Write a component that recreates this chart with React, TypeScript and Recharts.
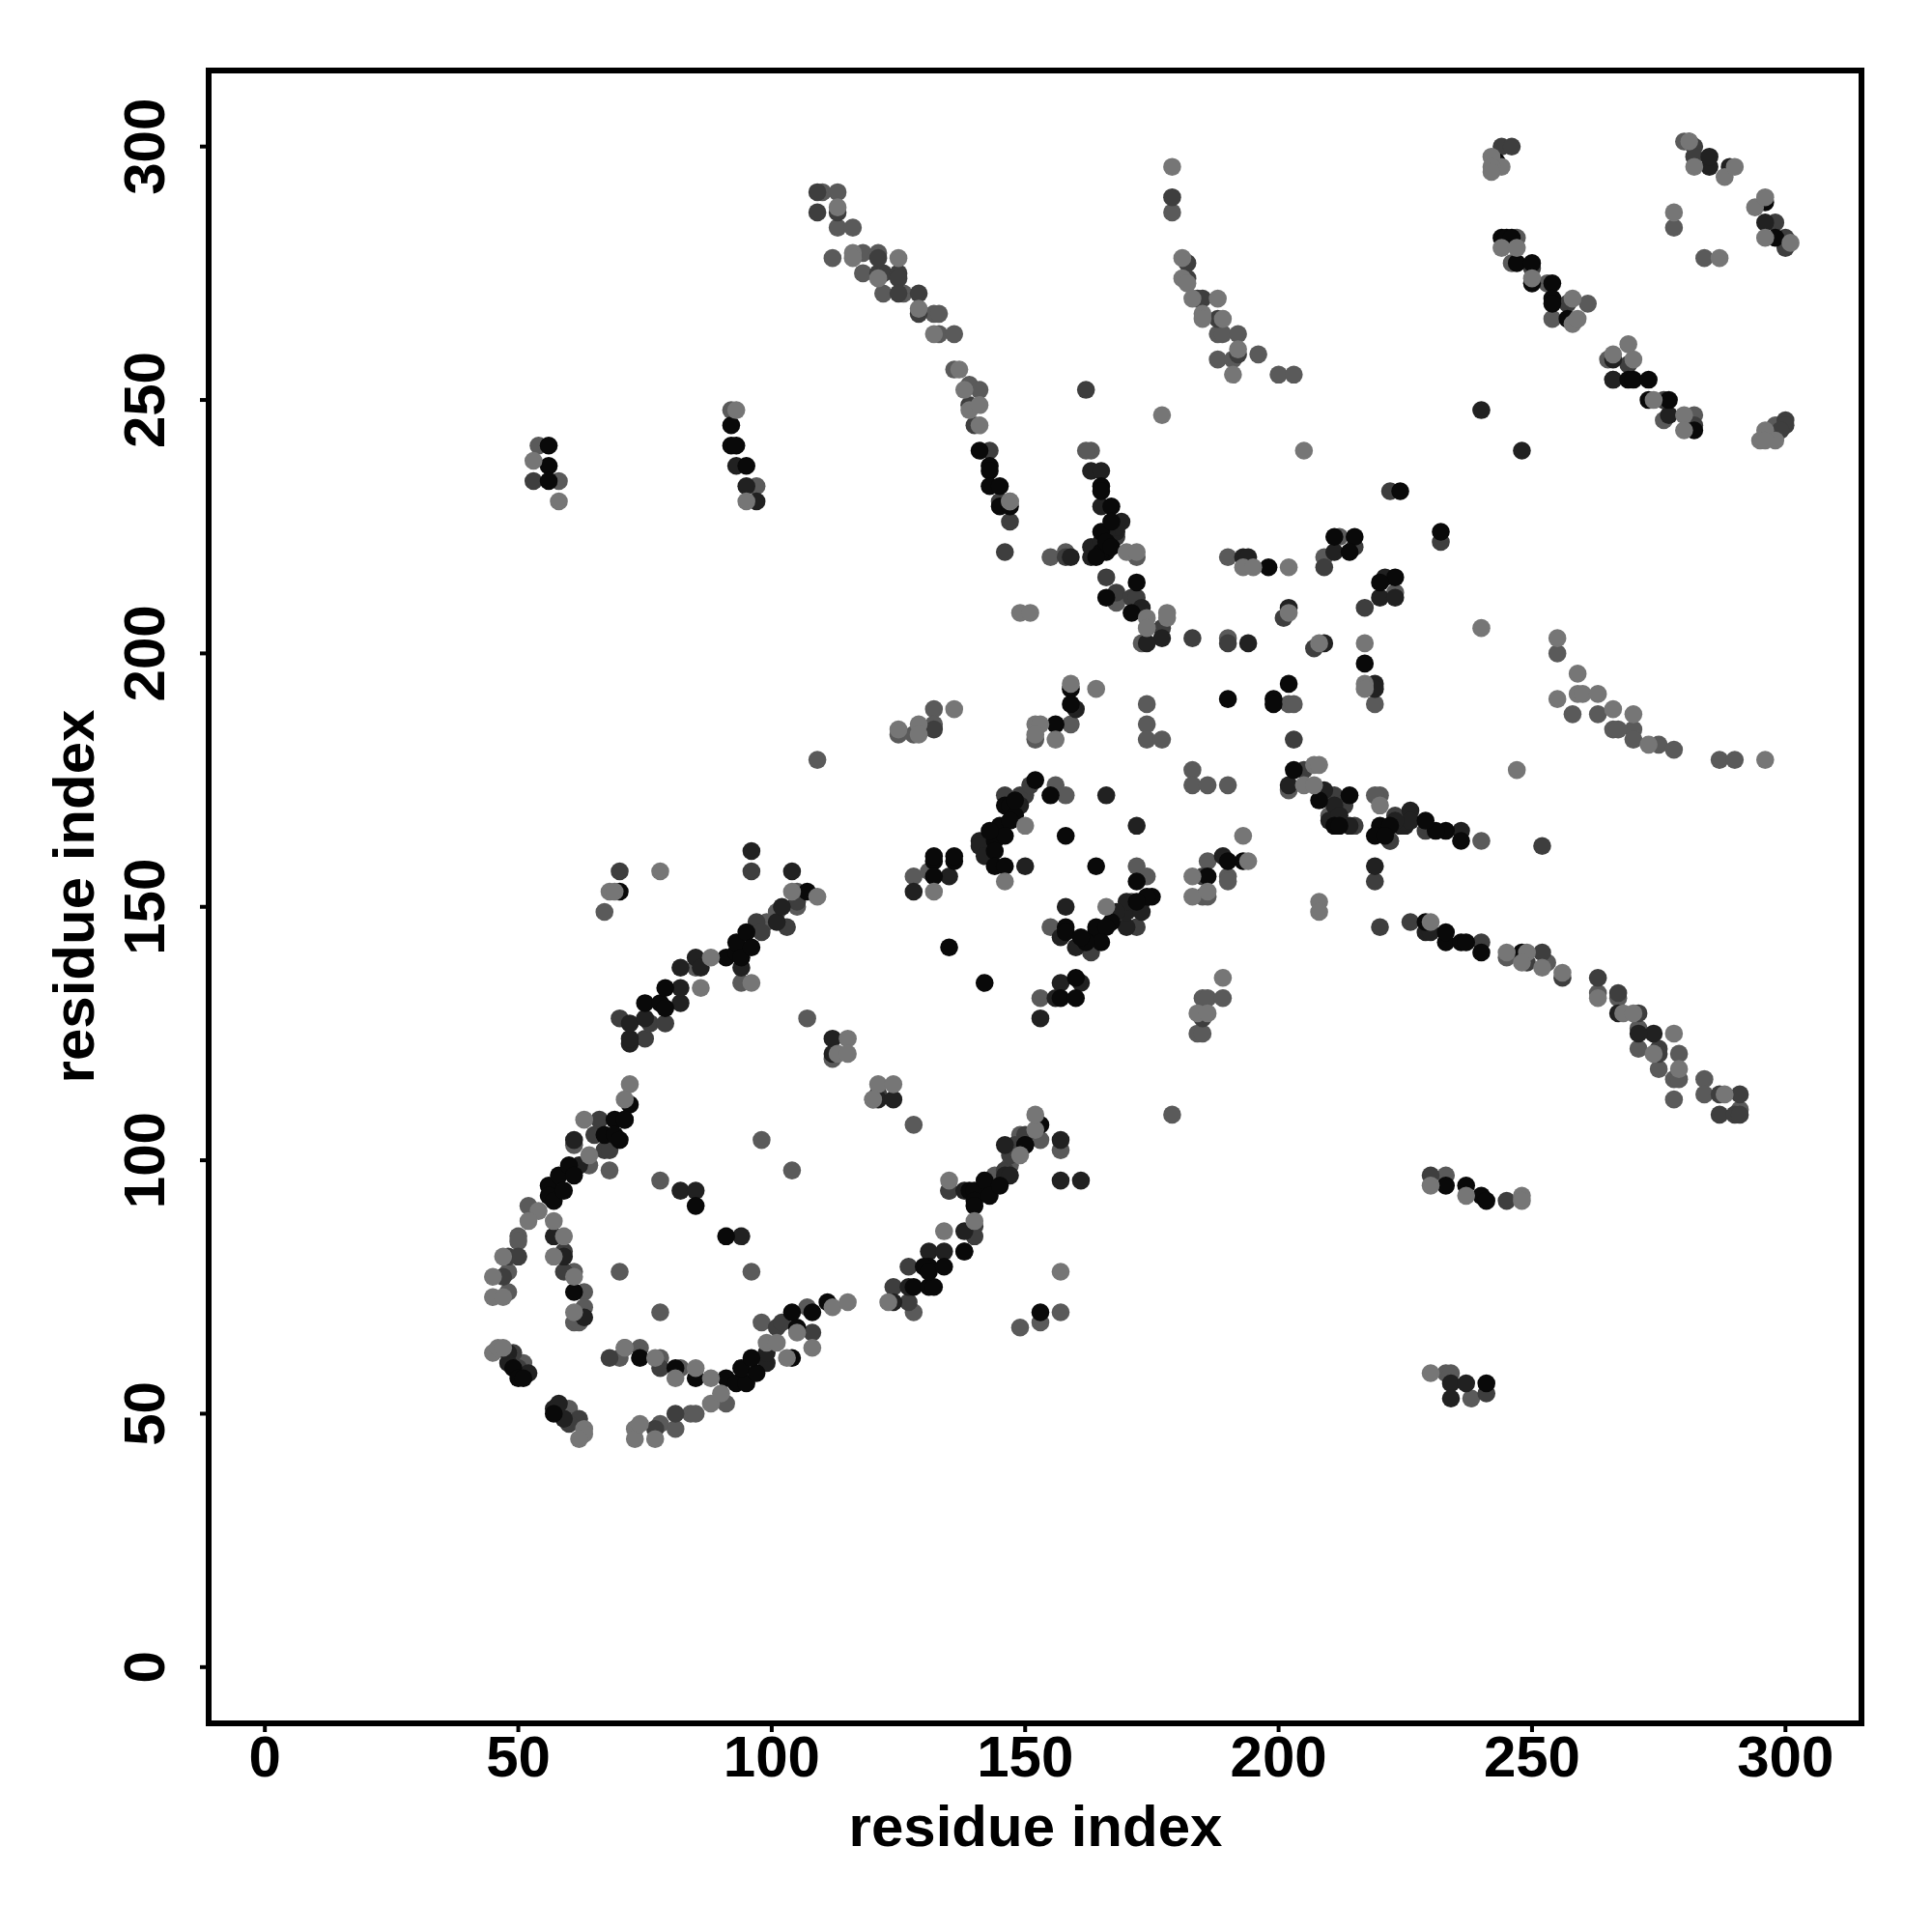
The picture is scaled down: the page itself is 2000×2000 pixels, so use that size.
import { ScatterChart, Scatter, XAxis, YAxis } from "recharts";

type Pair = [number, number];

const tickValues = [0, 50, 100, 150, 200, 250, 300];
const axisTitle = "residue index";

// contacts grouped by how dark the dot is as [i, j]
const darkest: Pair[] = [
  [56,95],[56,93],[57,92],[58,97],[59,94],[60,99],[61,97],[67,105],[69,108],[69,105],[85,91],[91,85],[49,59],[50,57],[51,57],[57,50],
  [74,61],[81,59],[85,57],[91,57],[93,56],[95,56],[94,59],[97,58],[96,61],[104,70],[105,67],[108,70],[111,72],[104,61],[128,75],[131,75],[132,75],
  [131,79],[130,79],[131,78],[134,79],[138,82],[139,94],[140,94],[140,92],[140,91],[142,96],[143,93],[145,95],[150,103],[153,107],[153,70],[61,74],[70,153],[75,131],[78,131],[79,130],[79,134],[91,140],[93,141],[93,143],[94,140],
  [95,145],[96,142],[107,153],[72,111],[71,108],[70,104],[135,142],[142,135],[132,159],[136,159],[132,160],[136,160],[132,156],[159,193],
  [159,190],[156,186],[199,191],[199,190],[203,177],[208,171],[211,166],[212,166],[214,172],[152,175],[146,170],[147,170],[148,168],[148,171],[145,166],[144,163],[155,172],[158,164],[147,167],
  [146,164],[143,165],[144,161],[144,158],[146,158],[164,158],[172,155],[175,152],[174,152],[172,151],[167,147],[158,146],[158,145],[164,145],[164,146],[166,146],[165,143],[162,143],[161,144],
  [160,136],[157,132],[160,132],[186,156],[190,159],[193,159],[141,240],[143,237],[143,236],[143,233],[145,233],[145,229],[147,229],[165,233],
  [165,232],[167,229],[165,224],[166,220],[165,220],[166,222],[167,221],[167,226],[164,219],[172,214],[166,211],[171,208],[190,191],[198,217],[211,223],[215,223],[214,220],[224,232],
  [232,224],[223,215],[220,214],[217,198],[220,166],[219,164],[222,166],[221,164],[236,163],[233,165],[231,165],[229,167],[233,143],[233,145],
  [236,143],[237,143],[240,141],[229,147],[248,141],[244,282],[245,282],[246,282],[247,277],[250,277],[250,273],[254,273],[254,270],[254,269],[257,266],[269,254],
  [270,254],[273,254],[273,250],[277,250],[282,244],[296,289],[298,282],[56,241],[56,237],[56,234],[92,245],[92,241],[93,241],[95,237],
  [241,56],[233,95],[237,95],[240,93],[241,92],[202,194],[243,297],
];

const nearBlack: Pair[] = [
  [62,99],[61,104],[82,94],[85,94],[94,85],[48,62],[48,60],[52,58],[57,51],[58,52],[59,49],[57,85],[59,81],[63,69],[71,108],[99,60],[99,62],
  [127,75],[131,82],[134,82],[124,72],[138,86],[138,94],[142,94],[146,97],[146,103],[147,97],[150,103],[157,104],[157,96],[161,96],[72,123],[72,124],[72,127],
  [75,128],[82,131],[82,134],[82,138],[85,140],[86,138],[94,138],[96,161],[104,157],[101,147],[102,150],[112,124],[112,121],[121,112],[124,112],
  [128,153],[135,156],[160,189],[202,174],[209,173],[211,170],[211,167],[210,167],[212,168],[214,166],[166,172],[172,166],[141,163],[141,162],[142,160],[149,170],[150,158],
  [173,151],[170,146],[170,149],[170,151],[173,149],[168,149],[160,142],[157,144],[158,150],[157,135],[161,135],[156,132],[153,128],[189,160],[159,219],[163,219],[163,236],
  [165,236],[165,229],[168,224],[168,225],[166,224],[169,226],[163,221],[165,222],[173,209],[177,203],[174,202],[194,202],[202,209],[209,202],[219,194],[219,193],
  [193,219],[194,219],[211,220],[221,215],[220,211],[223,211],[236,165],[226,169],[224,166],[225,166],[226,167],[223,167],[219,158],[229,145],[230,145],[274,125],
  [267,129],[271,125],[285,296],[289,296],[296,285],[266,258],[266,254],[277,247],[240,248],[248,240],[93,237],[95,233],[97,230],[234,56],
  [234,53],[237,56],[285,298],
];

const darkGrey: Pair[] = [
  [66,108],[67,102],[68,102],[65,105],[48,81],[50,81],[47,77],[59,82],[59,78],[49,62],[50,59],[62,49],[60,48],[77,47],[81,50],[68,61],[78,59],
  [101,67],[102,68],[108,66],[127,72],[124,75],[127,79],[138,82],[140,87],[140,85],[146,98],[147,101],[135,94],[150,105],[148,103],[70,128],[70,157],[96,157],[75,124],[76,127],
  [79,127],[97,147],[98,145],[103,146],[105,151],[121,113],[132,185],[185,156],[185,128],[146,172],[149,172],[150,172],[151,174],[203,183],[205,177],[211,172],[213,170],[172,146],[169,148],
  [163,141],[143,240],[145,230],[147,226],[146,220],[158,219],[167,224],[168,223],[166,215],[168,212],[171,211],[172,211],[177,205],[183,203],
  [190,202],[201,207],[207,201],[215,221],[209,217],[222,232],[232,222],[217,209],[222,163],[223,168],[215,166],[229,165],[219,155],[220,146],
  [226,147],[240,143],[252,162],[249,139],[252,141],[256,136],[263,136],[267,133],[271,129],[275,122],[275,121],[287,113],[291,113],[287,109],[290,109],
  [291,109],[244,300],[246,300],[282,300],[282,298],[250,276],[257,269],[269,257],[276,250],[282,245],[300,246],[300,245],[299,244],[298,285],[300,282],
  [300,280],[281,301],[109,291],[109,287],[113,287],[121,275],[122,275],[125,275],[125,274],[125,271],[129,271],[129,267],[121,278],[139,249],[140,245],
  [162,252],[179,290],[182,277],[182,274],[184,270],[185,270],[188,266],[192,259],[53,234],[230,97],[245,92],[241,54],
];

const midGrey: Pair[] = [
  [98,104],[128,107],[104,98],[68,98],[78,96],[96,78],[70,78],[78,70],[52,91],[50,85],[50,84],[48,78],[48,74],[61,103],[64,99],[61,78],[63,74],[63,71],
  [61,68],[62,68],[51,60],[60,51],[70,61],[71,63],[74,63],[78,61],[78,48],[81,47],[82,59],[84,50],[85,50],[91,52],[98,68],[107,71],[128,70],[149,104],[149,105],
  [144,97],[147,99],[135,94],[153,104],[157,102],[157,70],[153,68],[149,67],[107,128],[67,149],[85,138],[94,135],[99,147],[101,149],[105,150],[105,153],[112,120],[120,112],[121,113],
  [125,184],[128,184],[132,189],[132,186],[174,190],[174,186],[174,183],[177,183],[183,177],[183,174],[186,174],[190,174],[202,190],[203,190],[202,173],
  [156,174],[158,172],[210,168],[128,156],[131,157],[159,186],[152,183],[172,158],[174,156],[171,151],[155,146],[153,132],[186,159],[190,156],[190,155],
  [185,152],[186,152],[185,132],[186,132],[189,132],[184,125],[185,125],[179,109],[155,219],[158,220],[172,219],[163,240],[168,210],[173,202],[190,203],
  [190,219],[212,223],[209,219],[223,212],[219,190],[220,172],[219,172],[240,163],[222,163],[245,140],[253,139],[263,133],[267,132],[271,126],[271,122],
  [275,118],[278,116],[279,116],[278,112],[279,121],[284,116],[284,113],[291,110],[247,282],[246,277],[253,273],[261,269],[254,266],[265,258],[266,254],
  [276,246],[282,247],[280,301],[278,284],[284,278],[299,245],[298,245],[298,243],[110,291],[113,291],[113,284],[116,284],[112,278],[118,279],[121,279],
  [118,275],[122,271],[126,271],[132,267],[133,267],[133,263],[136,263],[136,256],[139,253],[141,252],[162,240],[179,287],[188,263],[189,263],[192,263],
  [188,258],[191,258],[196,259],[200,255],[203,255],[255,200],[258,188],[263,188],[266,185],[270,185],[270,183],[267,185],[275,182],[278,181],[287,179],
  [290,179],[109,179],[54,241],[58,234],[92,248],[97,233],[238,53],[233,58],[234,58],[233,97],
];

const lightGrey: Pair[] = [
  [63,108],[54,90],[52,88],[47,81],[45,77],[45,73],[47,73],[64,101],[57,88],[59,85],[57,81],[61,77],[61,70],[45,62],[46,63],[47,63],[63,47],[63,46],
  [62,45],[73,47],[73,45],[74,48],[77,45],[71,63],[77,61],[81,57],[85,59],[88,57],[88,52],[90,54],[99,64],[101,64],[103,61],[105,66],[108,63],[112,71],
  [115,72],[123,72],[134,86],[135,96],[140,88],[149,101],[152,106],[152,109],[157,78],[78,157],[68,153],[69,153],[86,134],[88,140],[96,135],[104,153],[109,152],[115,124],[113,121],
  [115,121],[121,115],[124,115],[120,112],[72,115],[71,112],[132,153],[129,186],[129,184],[125,185],[136,189],[159,194],[164,193],[152,186],[153,186],
  [152,184],[156,183],[207,178],[208,178],[205,174],[207,174],[150,166],[146,155],[166,150],[183,156],[183,152],[186,153],[193,164],[194,159],[208,151],
  [208,149],[189,136],[184,129],[186,129],[147,230],[170,220],[172,220],[149,208],[151,208],[174,207],[178,208],[178,207],[174,205],[193,217],[195,217],
  [202,217],[202,208],[205,240],[208,202],[217,202],[217,194],[217,193],[220,170],[230,147],[245,141],[249,141],[248,139],[252,138],[256,137],[263,132],
  [268,129],[270,129],[274,121],[278,125],[279,118],[288,113],[242,298],[244,296],[242,296],[242,295],[282,296],[281,301],[288,294],[290,296],[294,288],
  [296,290],[296,282],[301,281],[278,287],[287,278],[244,280],[247,280],[250,274],[258,270],[258,265],[259,266],[269,261],[266,259],[270,258],[274,250],
  [280,247],[280,244],[296,244],[295,242],[298,242],[296,242],[116,279],[116,278],[125,278],[113,288],[121,274],[129,268],[132,263],[137,256],[138,252],
  [139,248],[141,249],[141,245],[147,230],[177,247],[179,296],[181,278],[181,274],[182,273],[183,270],[185,267],[185,266],[189,266],[188,270],[192,260],
  [191,255],[255,203],[259,196],[255,191],[259,192],[260,192],[263,192],[266,189],[270,188],[273,182],[296,179],[240,205],[247,177],[53,238],[58,230],
  [93,248],[95,230],[230,58],[230,95],[237,93],[248,93],[248,92],
];

const groups: { name: string; points: Pair[]; colour: string }[] = [
  { name: "midGrey", points: midGrey, colour: "#5a5a5a" },
  { name: "darkGrey", points: darkGrey, colour: "#3e3e3e" },
  { name: "nearBlack", points: nearBlack, colour: "#212121" },
  { name: "darkest", points: darkest, colour: "#090909" },
  { name: "lightGrey", points: lightGrey, colour: "#767676" },
];

const FONT = "'Liberation Sans', Arial, sans-serif";
const TICK_SIZE = 60;
const TITLE_SIZE = 60;

function Dot(props: any) {
  return <circle cx={props.cx} cy={props.cy} r={9.3} fill={props.fill} />;
}

function XTick({ x, y, payload }: any) {
  return (
    <g>
      <line x1={x} x2={x} y1={y - 6} y2={y + 2} stroke="#000" strokeWidth={4} />
      <text x={x} y={y + 48} textAnchor="middle" fontFamily={FONT} fontSize={TICK_SIZE} fontWeight="bold" fill="#000">
        {payload.value}
      </text>
    </g>
  );
}

function YTick({ x, y, payload }: any) {
  return (
    <g>
      <line x1={x - 2} x2={x + 6} y1={y} y2={y} stroke="#000" strokeWidth={4} />
      <text
        x={x - 39}
        y={y}
        transform={`rotate(-90 ${x - 39} ${y})`}
        textAnchor="middle"
        fontFamily={FONT}
        fontSize={TICK_SIZE}
        fontWeight="bold"
        fill="#000"
      >
        {payload.value}
      </text>
    </g>
  );
}

export default function App() {
  return (
    <div style={{ position: "absolute", left: 0, top: 0, width: 2000, height: 2000, background: "#fff" }}>
      <ScatterChart
        width={2000}
        height={2000}
        margin={{ top: 73, right: 73, bottom: 127, left: 147 }}
      >
        <XAxis
          type="number"
          dataKey="x"
          domain={[-10.9, 315]}
          ticks={tickValues}
          axisLine={false}
          tickLine={false}
          height={90}
          tick={<XTick />}
          interval={0}
          allowDataOverflow
          label={{
            value: axisTitle,
            position: "insideBottom",
            offset: -38,
            fontFamily: FONT,
            fontSize: TITLE_SIZE,
            fontWeight: "bold",
            fill: "#000",
          }}
        />
        <YAxis
          type="number"
          dataKey="y"
          domain={[-10.9, 315]}
          ticks={tickValues}
          axisLine={false}
          tickLine={false}
          width={70}
          tick={<YTick />}
          interval={0}
          allowDataOverflow
          label={{
            value: axisTitle,
            angle: -90,
            position: "insideLeft",
            offset: -71,
            style: { textAnchor: "middle" },
            fontFamily: FONT,
            fontSize: TITLE_SIZE,
            fontWeight: "bold",
            fill: "#000",
          }}
        />
        {groups.map((g) => (
          <Scatter
            key={g.name}
            name={g.name}
            data={g.points.map(([x, y]) => ({ x, y }))}
            fill={g.colour}
            shape={<Dot />}
            isAnimationActive={false}
          />
        ))}
      </ScatterChart>
      {/* plot frame sits on top of the chart area */}
      <div
        style={{
          position: "absolute",
          left: 213,
          top: 70,
          width: 1705,
          height: 1705,
          border: "6px solid #000",
          boxSizing: "content-box",
          pointerEvents: "none",
        }}
      />
    </div>
  );
}
